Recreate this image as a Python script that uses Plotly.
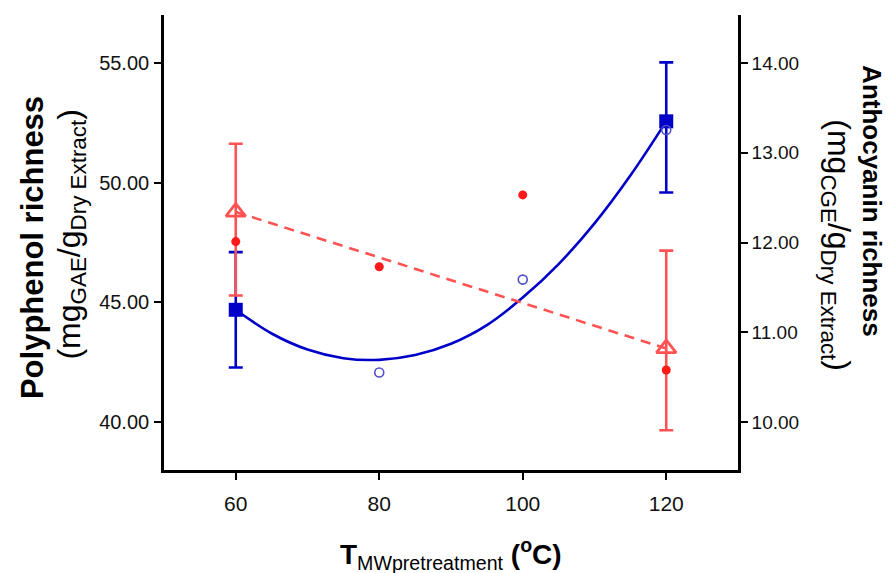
import plotly.graph_objects as go

# ---------------- data ----------------
temps = [60, 80, 100, 120]
x_ticks = [60, 80, 100, 120]

# Polyphenol (left axis) - group means with SD
poly_mean_x = [60, 120]
poly_mean = [44.69, 52.56]
poly_err_up = [2.41, 2.46]
poly_err_down = [2.41, 2.97]
# individual polyphenol observations (open circles)
poly_obs_x = [80, 100, 120]
poly_obs = [42.07, 45.95, 52.20]
# fitted curve
poly_fit_x = [60, 65, 70, 75, 80, 85, 90, 95, 100, 105, 110, 115, 120]
poly_fit_y = [44.69, 43.70, 43.03, 42.67, 42.60, 42.80, 43.27, 44.05, 45.20, 46.60, 48.30, 50.30, 52.56]

# Anthocyanin (right axis) - group means with SD
antho_mean_x = [60, 120]
antho_mean = [12.34, 10.82]
antho_err_up = [0.76, 1.09]
antho_err_down = [0.93, 0.91]
# individual anthocyanin observations (filled dots)
antho_obs_x = [60, 80, 100, 120]
antho_obs = [12.01, 11.73, 12.53, 10.58]

left_ticks = [40, 45, 50, 55]
right_ticks = [10, 11, 12, 13, 14]

BLUE = "#0000c8"
BLUE_LIGHT = "#5050c8"
RED = "#ff5252"
RED_DOT = "#ff1a1a"
FONT = "Liberation Sans, Arial, sans-serif"

fig = go.Figure()

# blue fitted curve
fig.add_trace(go.Scatter(x=poly_fit_x, y=poly_fit_y, mode="lines",
                         line=dict(color=BLUE, width=2.6, shape="spline"),
                         showlegend=False, hoverinfo="skip"))

# red dashed line between means (right axis)
fig.add_trace(go.Scatter(x=antho_mean_x, y=antho_mean, mode="lines", yaxis="y2",
                         line=dict(color=RED, width=2.6, dash="10px,7px"),
                         showlegend=False, hoverinfo="skip"))

# red triangles with error bars
fig.add_trace(go.Scatter(x=antho_mean_x, y=antho_mean, mode="markers", yaxis="y2",
                         marker=dict(symbol="triangle-up-open", size=17, color=RED,
                                     line=dict(color=RED, width=2.8)),
                         error_y=dict(type="data", symmetric=False, array=antho_err_up,
                                      arrayminus=antho_err_down, color=RED,
                                      thickness=2.6, width=7),
                         showlegend=False))

# red dots
fig.add_trace(go.Scatter(x=antho_obs_x, y=antho_obs, mode="markers", yaxis="y2",
                         marker=dict(symbol="circle", size=9, color=RED_DOT),
                         showlegend=False))

# blue squares with error bars
fig.add_trace(go.Scatter(x=poly_mean_x, y=poly_mean, mode="markers",
                         marker=dict(symbol="square", size=14, color=BLUE),
                         error_y=dict(type="data", symmetric=False, array=poly_err_up,
                                      arrayminus=poly_err_down, color=BLUE,
                                      thickness=2.6, width=7),
                         showlegend=False))

# blue open circles
fig.add_trace(go.Scatter(x=poly_obs_x, y=poly_obs, mode="markers",
                         marker=dict(symbol="circle-open", size=9, color=BLUE_LIGHT,
                                     line=dict(color=BLUE_LIGHT, width=1.6)),
                         showlegend=False))

axis_common = dict(showgrid=False, zeroline=False, showline=True, linecolor="black",
                   linewidth=2.6, ticks="outside", ticklen=7, tickwidth=2,
                   tickcolor="black")

fig.update_layout(
    width=895, height=573,
    margin=dict(l=164, r=157, t=15, b=103),
    paper_bgcolor="white", plot_bgcolor="white",
    font=dict(family=FONT, color="#111111"),
    xaxis=dict(range=[50, 130], tickvals=x_ticks, ticktext=[str(v) for v in x_ticks],
               tickfont=dict(size=21, color="#111111"), ticklabelstandoff=6,
               **axis_common),
    yaxis=dict(range=[38, 57], tickvals=left_ticks, tickformat=".2f",
               tickfont=dict(size=20, color="#111111"), ticklabelstandoff=1,
               **axis_common),
    yaxis2=dict(range=[10 + (38 - 40) * 4 / 15, 10 + (57 - 40) * 4 / 15], overlaying="y",
                side="right", tickvals=right_ticks, tickformat=".2f",
                tickfont=dict(size=19, color="#111111"), **axis_common),
)

annots = [
    dict(text="<b>Polyphenol richness</b>", x=-0.228, y=0.488, textangle=-90,
         font=dict(size=31, color="black", family=FONT)),
    dict(text="(mg<sub>GAE</sub>/g<sub>Dry Extract</sub>)", x=-0.161, y=0.5165, textangle=-90,
         font=dict(size=32, color="black", family=FONT)),
    dict(text="<b>Anthocyanin richness</b>", x=1.2334, y=0.591, textangle=90,
         font=dict(size=26, color="black", family=FONT)),
    dict(text="(mg<sub>CGE</sub>/g<sub>Dry Extract</sub>)", x=1.172, y=0.4945, textangle=90,
         font=dict(size=32, color="black", family=FONT)),
    dict(text="<b>T</b><sub>MWpretreatment</sub> <b>(<sup>o</sup>C)</b>", x=0.5, y=-0.185,
         font=dict(size=28, color="black", family=FONT)),
]
for a in annots:
    fig.add_annotation(xref="paper", yref="paper", showarrow=False,
                       xanchor="center", yanchor="middle", **a)

fig.write_html("out.html")
